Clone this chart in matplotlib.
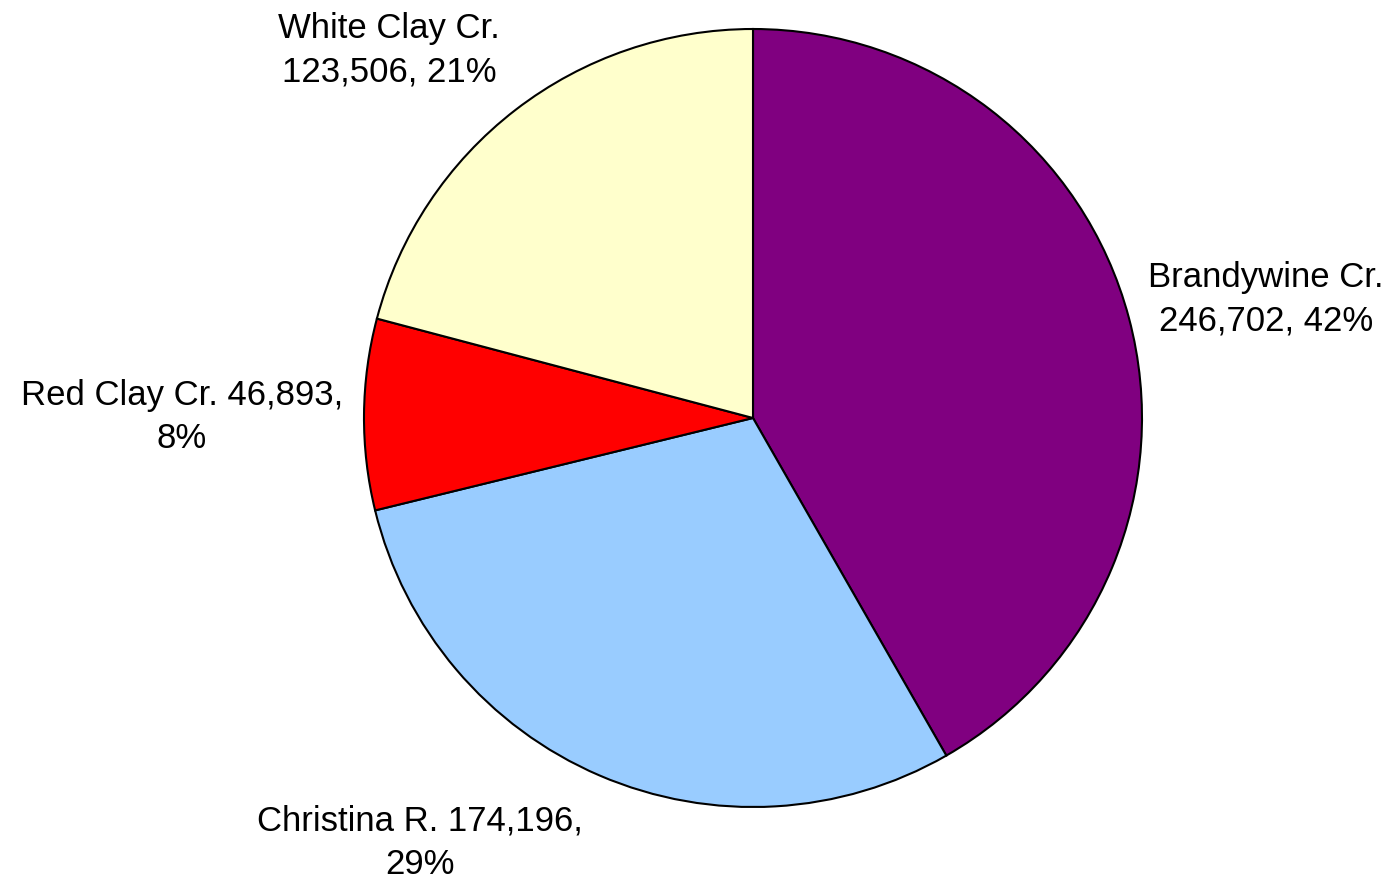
import matplotlib
matplotlib.use("Agg")
import matplotlib.pyplot as plt

plt.rcParams['font.family'] = ['Liberation Sans', 'DejaVu Sans']

# data
names = ['Brandywine Cr.', 'Christina R.', 'Red Clay Cr.', 'White Clay Cr.']
values = [246702, 174196, 46893, 123506]
colors = ['#800080', '#99CCFF', '#FF0000', '#FFFFCC']
label_text = ['Brandywine Cr.\n246,702, 42%',
              'Christina R. 174,196,\n29%',
              'Red Clay Cr. 46,893,\n8%',
              'White Clay Cr.\n123,506, 21%']

W, H = 1395, 884
fig = plt.figure(figsize=(W / 100, H / 100), dpi=100)
cx, cy, r = 753, 418, 389
ax = fig.add_axes([(cx - r) / W, (H - cy - r) / H, 2 * r / W, 2 * r / H])

ax.pie(values, colors=colors, startangle=90, counterclock=False,
       radius=1, wedgeprops=dict(edgecolor='black', linewidth=1.5))
ax.set_xlim(-1, 1)
ax.set_ylim(-1, 1)
ax.set_aspect('equal')
ax.axis('off')

# label centres in pixel space of the reference
label_px = [(1266, 299), (420, 843), (182, 417), (389, 50)]
for txt, (px, py) in zip(label_text, label_px):
    ax.text((px - cx) / r, (cy - py) / r, txt, ha='center', va='center',
            fontsize=25, linespacing=1.4, clip_on=False)

fig.savefig('out.png', dpi=100)
